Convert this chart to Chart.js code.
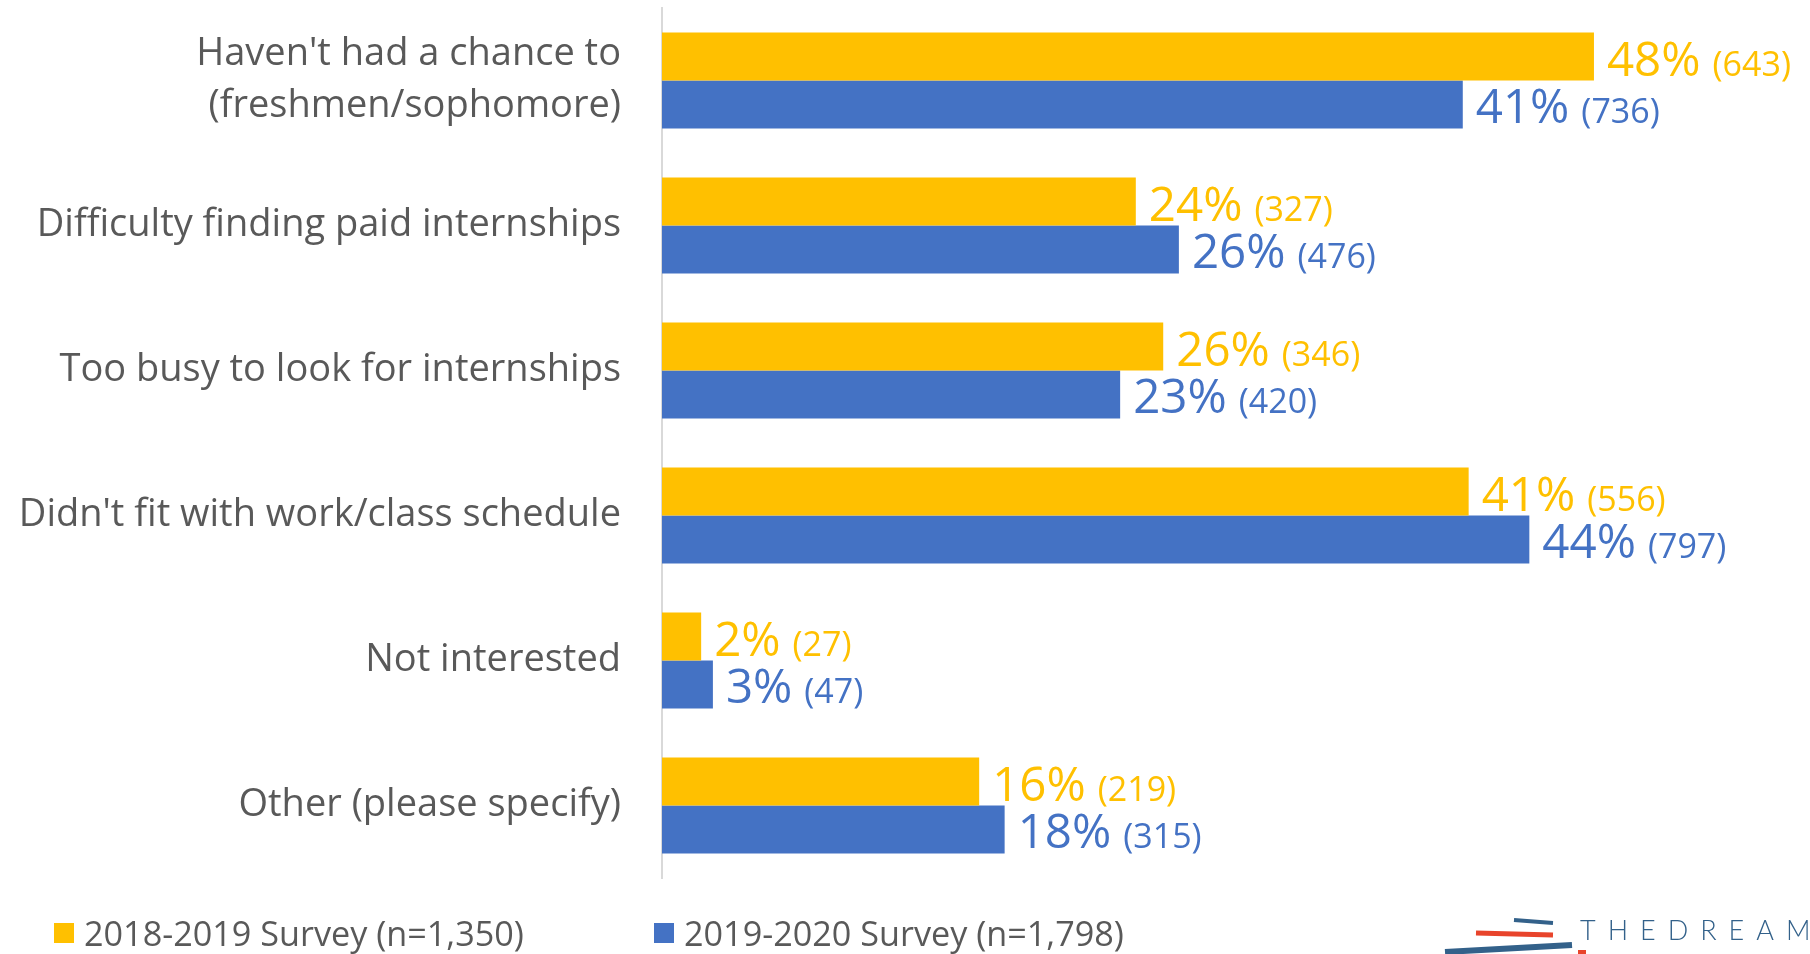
<!DOCTYPE html>
<html>
<head>
<meta charset="utf-8">
<title>Reasons for not doing an internship</title>
<script src="https://cdn.jsdelivr.net/npm/chart.js@4.4.1/dist/chart.umd.min.js"></script>
<style>
  html, body { margin: 0; padding: 0; background: #fff; overflow: hidden; }
  #wrap { position: relative; width: 1810px; height: 954px; }
  .legend { position: absolute; top: 912px; font-family: "Open Sans", sans-serif; font-size: 34.2px; color: #595959; white-space: nowrap; line-height: 42px; }
  .legend span.box { position: absolute; width: 20px; height: 20px; top: 11px; }
  .legend span.txt { position: absolute; left: 30px; top: 0; }
</style>
</head>
<body>
<div id="wrap">
  <canvas id="reasonsChart" width="1810" height="954"></canvas>
  <div class="legend" id="leg1" style="left:54px"><span class="box" style="background:#FFC000"></span><span class="txt"></span></div>
  <div class="legend" id="leg2" style="left:654px"><span class="box" style="background:#4472C4"></span><span class="txt"></span></div>
</div>
<script>
var categories = [
    ["Haven't had a chance to", "(freshmen/sophomore)"],
    "Difficulty finding paid internships",
    "Too busy to look for internships",
    "Didn't fit with work/class schedule",
    "Not interested",
    "Other (please specify)"
];
var seriesNames = ["2018-2019 Survey (n=1,350)", "2019-2020 Survey (n=1,798)"];

// share of respondents (%) and respondent counts
var pct2019 = [47.6, 24.2, 25.6, 41.2, 2.0, 16.2];
var pct2020 = [40.9, 26.4, 23.4, 44.3, 2.6, 17.5];
var count2019 = [643, 327, 346, 556, 27, 219];
var count2020 = [736, 476, 420, 797, 47, 315];

var colors = ['#FFC000', '#4472C4'];
var counts = [count2019, count2020];

document.querySelector('#leg1 .txt').textContent = seriesNames[0];
document.querySelector('#leg2 .txt').textContent = seriesNames[1];

// percent + (count) next to every bar
var barLabels = {
    id: 'barLabels',
    afterDatasetsDraw: function (chart) {
        var ctx = chart.ctx;
        ctx.save();
        ctx.textBaseline = 'alphabetic';
        ctx.textAlign = 'left';
        chart.data.datasets.forEach(function (ds, di) {
            var meta = chart.getDatasetMeta(di);
            meta.data.forEach(function (bar, i) {
                var x = bar.x + 13;
                var y = bar.y + 19;
                var pctText = Math.round(ds.data[i]) + '%';
                ctx.fillStyle = colors[di];
                ctx.font = '47.5px "Open Sans"';
                ctx.fillText(pctText, x, y);
                var w = ctx.measureText(pctText).width;
                ctx.font = '34px "Open Sans"';
                ctx.fillText('(' + counts[di][i] + ')', x + w + 12, y);
            });
        });
        ctx.restore();
    }
};

// small logo in the bottom right corner
var logo = {
    id: 'logo',
    afterDraw: function (chart) {
        var ctx = chart.ctx;
        ctx.save();
        ctx.lineCap = 'butt';
        ctx.strokeStyle = '#33618a';
        ctx.lineWidth = 4;
        ctx.beginPath(); ctx.moveTo(1514, 920); ctx.lineTo(1553, 923); ctx.stroke();
        ctx.strokeStyle = '#e8442b';
        ctx.lineWidth = 5;
        ctx.beginPath(); ctx.moveTo(1476, 933); ctx.lineTo(1553, 935); ctx.stroke();
        ctx.strokeStyle = '#33618a';
        ctx.lineWidth = 6;
        ctx.beginPath(); ctx.moveTo(1445, 952); ctx.lineTo(1572, 945); ctx.stroke();
        ctx.fillStyle = '#e8442b';
        ctx.fillRect(1578, 950, 8, 4);
        ctx.fillStyle = '#33618a';
        ctx.font = '300 27px Lato';
        ctx.textBaseline = 'alphabetic';
        var letters = 'THEDREAM'.split('');
        var x = 1580;
        for (var i = 0; i < letters.length; i++) {
            ctx.fillText(letters[i], x, 940);
            x += ctx.measureText(letters[i]).width + 12;
        }
        ctx.restore();
    }
};

var ctx = document.getElementById('reasonsChart');
var reasonsChart = new Chart(ctx, {
    type: 'bar',
    data: {
        labels: categories,
        datasets: [{
            label: seriesNames[0],
            data: pct2019,
            backgroundColor: colors[0],
            categoryPercentage: 0.662,
            barPercentage: 1.0
        }, {
            label: seriesNames[1],
            data: pct2020,
            backgroundColor: colors[1],
            categoryPercentage: 0.662,
            barPercentage: 1.0
        }]
    },
    options: {
        indexAxis: 'y',
        responsive: false,
        animation: false,
        devicePixelRatio: 1,
        layout: { padding: { top: 8, right: 32, bottom: 76, left: 0 } },
        scales: {
            x: { min: 0, max: 57, display: false },
            y: {
                grid: { display: false, drawTicks: false },
                border: { display: true, color: '#d9d9d9', width: 2 },
                ticks: {
                    color: '#595959',
                    padding: 41,
                    font: { family: 'Open Sans', size: 38, lineHeight: 1.37 }
                },
                afterFit: function (scale) {
                    scale.width = 662;
                    scale.paddingTop = 0;
                    scale.paddingBottom = 0;
                }
            }
        },
        plugins: {
            legend: { display: false },
            tooltip: { enabled: false }
        }
    },
    plugins: [barLabels, logo]
});
</script>
</body>
</html>
